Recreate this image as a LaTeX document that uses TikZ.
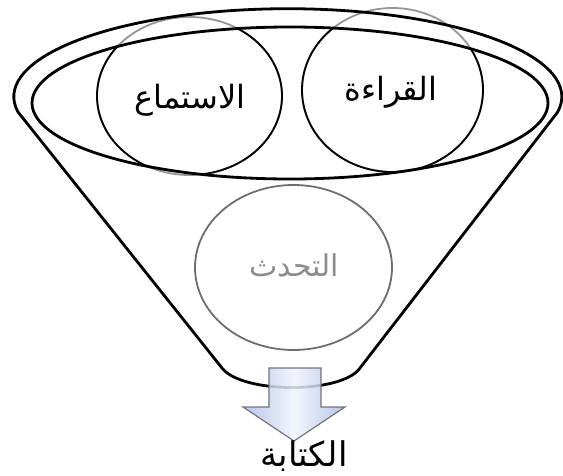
\documentclass[tikz,border=0pt]{standalone}
\usepackage{fontspec}
\usepackage{tikz}
\usetikzlibrary{positioning}
\newfontfamily\arabicfont[Script=Arabic]{DejaVu Sans}
\TeXXeTstate=1
\definecolor{rimgray}{RGB}{150,150,150}
\definecolor{midgray}{RGB}{110,110,110}
\definecolor{textgray}{RGB}{140,140,140}
\definecolor{arrowblue}{RGB}{172,187,230}
\definecolor{arrowlight}{RGB}{240,244,252}
\definecolor{arrowedge}{RGB}{115,115,120}
\newcommand{\funnelrim}{(222,368) -- (18,112) arc[start angle=170,end angle=370,x radius=274,y radius=88] -- (360,368) .. controls (342,394) and (242,394) .. (222,368) -- cycle}
\tikzset{
  rimline/.style={draw=black,line width=2.8pt,line join=round},
  skillring/.style={draw=rimgray,line width=1.8pt},
  skillinner/.style={draw=black,line width=1.8pt},
  skilltext/.style={font=\arabicfont\fontsize{32}{36}\selectfont,inner sep=0pt},
  outarrow/.style={draw=arrowedge,line width=1.2pt,fill opacity=0.85,left color=arrowblue,right color=arrowblue,middle color=arrowlight}
}

\begin{document}
\begin{tikzpicture}[x=1pt,y=-1pt]
  \useasboundingbox (0,0) rectangle (563,476);
  % funnel body
  \fill[white] \funnelrim;
  % the two circles in the rim
  \draw[skillring] (189.5,96) ellipse[x radius=92.5,y radius=79];
  \draw[skillring] (392.5,90) ellipse[x radius=90.5,y radius=82];
  \draw[rimline] (290,103) ellipse[x radius=258,y radius=76];
  \begin{scope}
    \clip (290,103) ellipse[x radius=258,y radius=76];
    \draw[skillinner] (189.5,96) ellipse[x radius=92.5,y radius=79];
    \draw[skillinner] (392.5,90) ellipse[x radius=90.5,y radius=82];
  \end{scope}
  % middle circle
  \draw[draw=midgray,line width=1.8pt] (293.5,267.5) ellipse[x radius=98.5,y radius=82.5];
  \draw[rimline] \funnelrim;
  % arrow out of the funnel
  \path[outarrow] (269,368) -- (321,368) -- (321,407) -- (345,407) -- (294,441)
    -- (243,407) -- (269,407) -- cycle;
  \node[skilltext] (listen) at (190,100) {\beginR الاستماع\endR};
  \node[skilltext] (read) at (391,92) {\beginR القراءة\endR};
  \node[skilltext,text=textgray,font=\arabicfont\fontsize{30}{34}\selectfont] (speak) at (294,265) {\beginR التحدث\endR};
  \node[skilltext,font=\arabicfont\fontsize{34}{38}\selectfont] (write) at (304,456) {\beginR الكتابة\endR};
\end{tikzpicture}
\end{document}
